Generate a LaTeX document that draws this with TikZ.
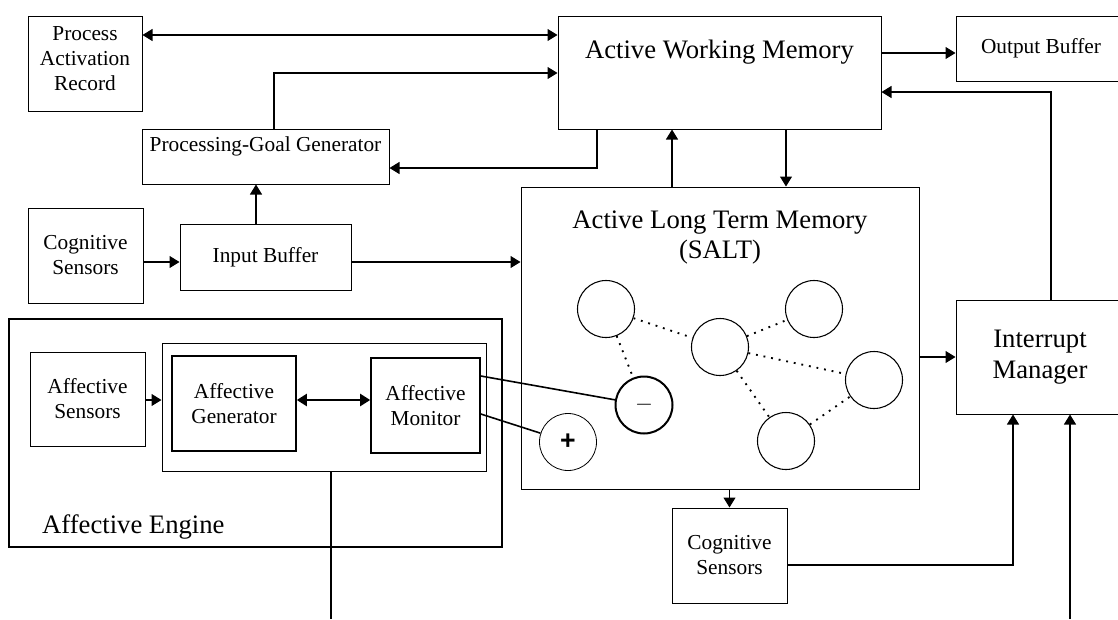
\documentclass[tikz,border=0pt]{standalone}
\usepackage{fontspec}
\setmainfont{Liberation Serif}
\newfontfamily\signfont{Liberation Sans}
\usepackage{tikz}
\usetikzlibrary{arrows.meta,positioning,calc}
\tikzset{
  unitbox/.style={draw, line width=0.75pt, inner sep=0pt, align=center,
                  font=\fontsize{16}{18.75}\selectfont},
  flowarrow/.style={-{Triangle[length=7.5pt,width=9pt]}, line width=0.8pt},
  botharrow/.style={{Triangle[length=7.5pt,width=9pt]}-{Triangle[length=7.5pt,width=9pt]},
                    line width=0.8pt},
  cellnode/.style={circle, draw, line width=0.8pt, minimum size=42.75pt, inner sep=0pt},
  linkline/.style={line width=1.4pt, dash pattern=on 1.4pt off 4.4pt}
}

\begin{document}
\begin{tikzpicture}[x=0.75pt, y=-0.75pt,
      bigtext/.style={font=\fontsize{20}{22.5}\selectfont},
      wire/.style={line width=1.2pt}
    ]
    \useasboundingbox (0,0) rectangle (1118,619);

    % Memory and control units
    \node[unitbox, minimum width=85.5pt, minimum height=71.25pt] (PAR) at (85,63.5)
      {Process\\Activation\\Record\\[-11.25pt]};
    \node[unitbox, minimum width=242.25pt, minimum height=84.75pt] (AWM) at (719.5,72.5)
      [label={[anchor=center, yshift=-27.75pt, bigtext]north:Active Working Memory}] {};
    \node[unitbox, minimum width=127.5pt, minimum height=48.75pt] (OB) at (1041,48.5)
      {Output Buffer};
    \node[unitbox, minimum width=185.25pt, minimum height=41.25pt] (PGG) at (265.5,156.5)
      [label={[anchor=center, yshift=-13.5pt, font=\fontsize{16}{18.75}\selectfont]north:Processing-Goal Generator}] {};
    \node[unitbox, minimum width=86.25pt, minimum height=71.25pt] (CSin) at (85.5,255.5)
      {Cognitive\\Sensors};
    \node[unitbox, minimum width=128.25pt, minimum height=49.5pt] (IB) at (265.5,257)
      {Input Buffer};
    \node[unitbox, minimum width=298.5pt, minimum height=226.5pt] (ALTM) at (720,338)
      [label={[anchor=center, yshift=-38.25pt, align=center, bigtext]north:Active Long Term Memory\\(SALT)}] {};
    \node[unitbox, minimum width=126pt, minimum height=85.5pt,
          font=\fontsize{20}{23.25}\selectfont] (IM) at (1040,357) {Interrupt\\Manager};
    \node[unitbox, minimum width=86.25pt, minimum height=71.25pt] (CSout) at (729.5,555.5)
      {Cognitive\\Sensors};

    % Affective engine
    \node[unitbox, line width=1.7pt, minimum width=369.75pt, minimum height=171pt] (AE) at (255.5,433)
      [label={[anchor=base west, xshift=25.5pt, yshift=11.25pt, inner sep=0pt, bigtext]south west:Affective Engine}] {};
    \node[unitbox, minimum width=86.25pt, minimum height=70.5pt] (AS) at (87.5,399)
      {Affective\\Sensors};
    \node[unitbox, minimum width=243pt, minimum height=96pt] (core) at (324,407) {};
    \node[unitbox, line width=1.2pt, minimum width=93pt, minimum height=71.25pt] (AG) at (234,403.5)
      {Affective\\Generator};
    \node[unitbox, line width=1.2pt, minimum width=81.75pt, minimum height=71.25pt] (AM) at (425.5,405.5)
      {Affective\\Monitor};

    % Memory cells
    \node[cellnode] (c1) at (606,309) {};
    \node[cellnode] (c2) at (720,347) {};
    \node[cellnode] (c3) at (814,309) {};
    \node[cellnode] (c4) at (874,380) {};
    \node[cellnode] (c5) at (786,441) {};
    \node[cellnode, line width=1.5pt, font=\fontsize{16}{18}\selectfont] (cm) at (644,405) {$-$};
    \node[cellnode, line width=0.6pt, font=\fontsize{20}{20}\signfont\bfseries] (cp) at (568,442) {+};

    \draw[linkline] (c1) -- (c2);
    \draw[linkline] (c1) -- (cm);
    \draw[linkline] (c2) -- (c3);
    \draw[linkline] (c2) -- (c4);
    \draw[linkline] (c2) -- (c5);
    \draw[linkline] (c5) -- (c4);

    % Top row connectors
    \draw[botharrow] (PAR.east |- 0,35) -- (AWM.west |- 0,35);
    \draw[flowarrow] (PGG.north -| 274,0) |- (AWM.west |- 0,73);
    \draw[flowarrow] (AWM.south -| 597,0) |- (PGG.east |- 0,168);
    \draw[flowarrow] (AWM.east |- 0,53) -- (OB.west |- 0,53);
    \draw[flowarrow] (IM.north -| 1051,0) |- (AWM.east |- 0,92);
    \draw[flowarrow] (ALTM.north -| 672,0) -- (AWM.south -| 672,0);
    \draw[flowarrow] (AWM.south -| 786,0) -- (ALTM.north -| 786,0);

    % Sensor path
    \draw[flowarrow] (CSin.east |- 0,262) -- (IB.west |- 0,262);
    \draw[flowarrow] (IB.north -| 256,0) -- (PGG.south -| 256,0);
    \draw[flowarrow] (IB.east |- 0,262) -- (ALTM.west |- 0,262);
    \draw[flowarrow] (ALTM.east |- 0,357) -- (IM.west |- 0,357);
    \draw[flowarrow] (ALTM.south -| CSout.north) -- (CSout.north);
    \draw[flowarrow] (CSout.east |- 0,565) -| (IM.south -| 1013,0);

    % Affective engine links
    \draw[flowarrow] (AS.east |- 0,400) -- (core.west |- 0,400);
    \draw[botharrow, line width=1.6pt] (AG.east |- 0,400) -- (AM.west |- 0,400);
    \draw[wire] (AM.east |- 0,376) -- (cm);
    \draw[wire] (AM.east |- 0,414) -- (cp);

    % Open ends at the bottom edge
    \coordinate (aeDown) at (331,619);
    \coordinate (imUp) at (1070,619);
    \draw[line width=0.8pt] (core.south -| aeDown) -- (aeDown);
    \draw[flowarrow] (imUp) -- (IM.south -| imUp);
\end{tikzpicture}
\end{document}
